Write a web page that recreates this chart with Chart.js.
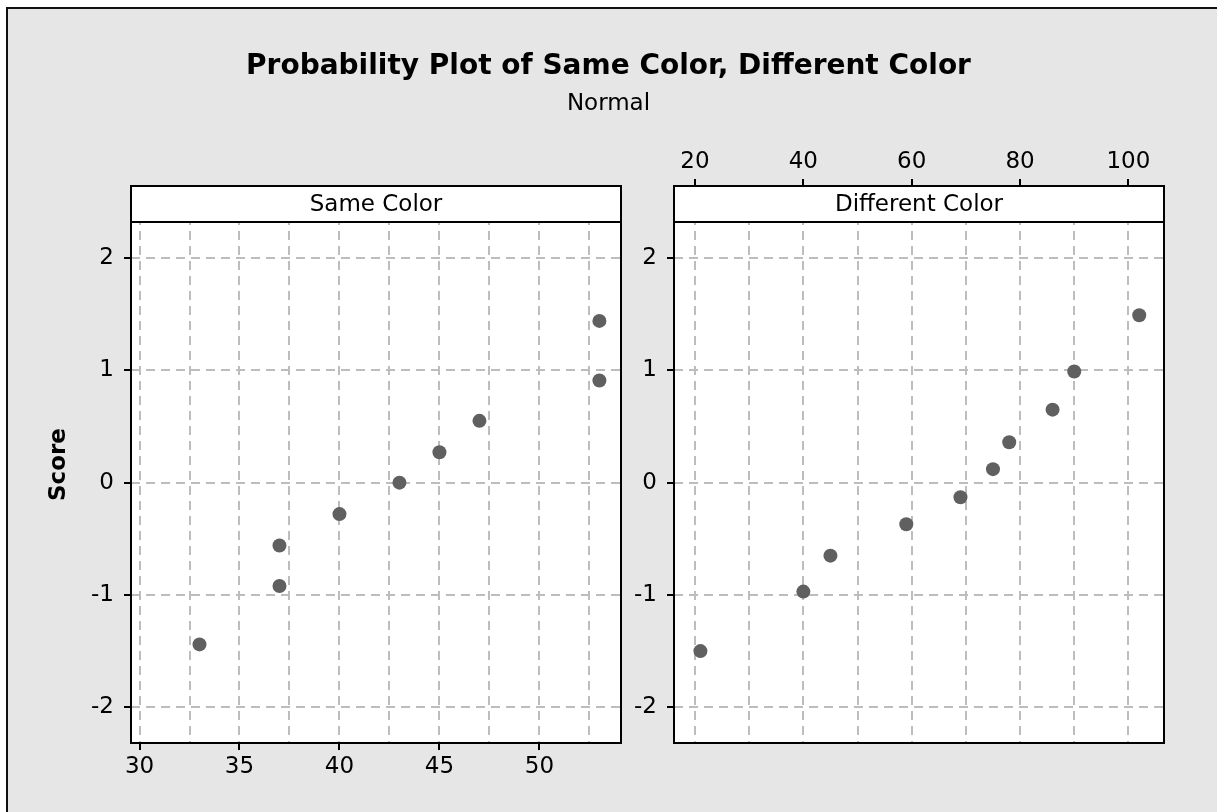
<!DOCTYPE html>
<html><head><meta charset="utf-8">
<script src="https://cdn.jsdelivr.net/npm/chart.js@4.4.1/dist/chart.umd.min.js"></script>
<style>
html,body{margin:0;padding:0;background:#fff;width:1217px;height:812px;overflow:hidden;}
#frame{position:absolute;left:6px;top:7px;width:1260px;height:860px;background:#e6e6e6;border-left:2px solid #111;border-top:2px solid #111;}
canvas{position:absolute;left:0;top:0;}
</style></head><body>
<div id="frame"></div>
<canvas id="c1" width="1217" height="812"></canvas>
<canvas id="c2" width="1217" height="812"></canvas>
<script>
// ---- text ----
const chartTitle = 'Probability Plot of Same Color, Different Color';
const chartSubtitle = 'Normal';
const panelNames = ['Same Color', 'Different Color'];
const yAxisTitle = 'Score';

// ---- data ----
const sameColor = [33, 37, 37, 40, 43, 45, 47, 53, 53];
const sameScore = [-1.44, -0.92, -0.56, -0.28, 0.00, 0.27, 0.55, 0.91, 1.44];
const differentColor = [21, 40, 45, 59, 69, 75, 78, 86, 90, 102];
const differentScore = [-1.50, -0.97, -0.65, -0.37, -0.13, 0.12, 0.36, 0.65, 0.99, 1.49];

// ---- ticks ----
const sameGridX = [30, 32.5, 35, 37.5, 40, 42.5, 45, 47.5, 50, 52.5];
const sameTickX = [30, 35, 40, 45, 50];
const diffGridX = [20, 30, 40, 50, 60, 70, 80, 90, 100];
const diffTickX = [20, 40, 60, 80, 100];
const scoreTicks = [-2, -1, 0, 1, 2];

Chart.defaults.font.family = "'DejaVu Sans'";
Chart.defaults.font.size = 23;
Chart.defaults.color = '#000';

const GRID = '#bdbdbd';
const POINT = '#606060';
const DASH = [9, 6];
const Y_MIN = -2.318, Y_MAX = 2.641, HEADER_VAL = 2.32;

function panelPlugin(name) {
  return {
    id: 'panelFrame',
    beforeDraw(chart) {
      const {ctx, chartArea: a} = chart;
      ctx.save(); ctx.fillStyle = '#fff';
      ctx.fillRect(a.left, a.top, a.right - a.left, a.bottom - a.top);
      ctx.restore();
    },
    afterDraw(chart) {
      const {ctx, chartArea: a} = chart;
      const hb = chart.scales.y.getPixelForValue(HEADER_VAL);
      ctx.save();
      ctx.fillStyle = '#fff';
      ctx.fillRect(a.left, a.top, a.right - a.left, hb - a.top);
      ctx.strokeStyle = '#000'; ctx.lineWidth = 2;
      ctx.beginPath(); ctx.moveTo(a.left, hb); ctx.lineTo(a.right, hb); ctx.stroke();
      ctx.strokeRect(a.left, a.top, a.right - a.left, a.bottom - a.top);
      ctx.fillStyle = '#000'; ctx.font = "23px 'DejaVu Sans'";
      ctx.textAlign = 'center'; ctx.textBaseline = 'middle';
      ctx.fillText(name, (a.left + a.right) / 2, (a.top + hb) / 2 + 1);
      ctx.restore();
    }
  };
}

function yScale(extra) {
  return Object.assign({
    type: 'linear', position: 'left', min: Y_MIN, max: Y_MAX,
    afterBuildTicks: s => { s.ticks = scoreTicks.map(v => ({value: v})); },
    ticks: {padding: 10, autoSkip: false, callback: v => String(v)},
    grid: {color: GRID, lineWidth: 2, tickLength: 7,
           tickColor: '#000', tickWidth: 2, tickBorderDash: []},
    border: {display: false, dash: DASH}
  }, extra);
}

function xScale(gridVals, tickVals, extra) {
  return Object.assign({
    type: 'linear',
    afterBuildTicks: s => { s.ticks = gridVals.map(v => ({value: v})); },
    ticks: {autoSkip: false, maxRotation: 0,
            callback: v => tickVals.includes(v) ? String(v) : ''},
    grid: {color: GRID, lineWidth: 2, tickLength: 7,
           tickColor: c => tickVals.includes(c.tick.value) ? '#000' : 'rgba(0,0,0,0)',
           tickWidth: 2, tickBorderDash: []},
    border: {display: false, dash: DASH}
  }, extra);
}

const pointStyle = {backgroundColor: POINT, borderColor: POINT, borderWidth: 0,
                    pointRadius: 7, pointHoverRadius: 7};

// ---- left panel (with titles) ----
new Chart(document.getElementById('c1'), {
  type: 'scatter',
  data: {datasets: [Object.assign({
    label: panelNames[0],
    data: sameColor.map((x, i) => ({x: x, y: sameScore[i]}))
  }, pointStyle)]},
  options: {
    responsive: false, animation: false, devicePixelRatio: 1,
    layout: {padding: 0},
    plugins: {
      legend: {display: false}, tooltip: {enabled: false},
      title: {display: true, text: chartTitle, color: '#000',
              font: {size: 28, weight: 'bold'}, padding: {top: 50.2, bottom: 0}},
      subtitle: {display: true, text: chartSubtitle, color: '#000',
                 font: {size: 23}, padding: {top: 6.1, bottom: 68.5}}
    },
    scales: {
      x: xScale(sameGridX, sameTickX, {position: 'bottom', min: 29.574, max: 54.08,
          afterFit: s => { s.height = 69; }}),
      y: Object.assign(yScale({afterFit: s => { s.width = 131; }}), {
          title: {display: true, text: yAxisTitle, color: '#000',
                  font: {size: 23, weight: 'bold'}, padding: {top: 45.7, bottom: 0}}}),
      spacer: {type: 'linear', position: 'right', display: true,
               grid: {display: false}, ticks: {display: false}, border: {display: false},
               afterFit: s => { s.width = 1217 - 621; }}
    }
  },
  plugins: [panelPlugin(panelNames[0])]
});

// ---- right panel ----
new Chart(document.getElementById('c2'), {
  type: 'scatter',
  data: {datasets: [Object.assign({
    label: panelNames[1],
    data: differentColor.map((x, i) => ({x: x, y: differentScore[i]}))
  }, pointStyle)]},
  options: {
    responsive: false, animation: false, devicePixelRatio: 1,
    layout: {padding: {left: 0, right: 1217 - 1164, top: 0, bottom: 812 - 743}},
    plugins: {legend: {display: false}, tooltip: {enabled: false}},
    scales: {
      x: xScale(diffGridX, diffTickX, {position: 'top', min: 16.124, max: 106.57,
          afterFit: s => { s.height = 186; }}),
      y: yScale({afterFit: s => { s.width = 674; }})
    }
  },
  plugins: [panelPlugin(panelNames[1])]
});
</script>
</body></html>
